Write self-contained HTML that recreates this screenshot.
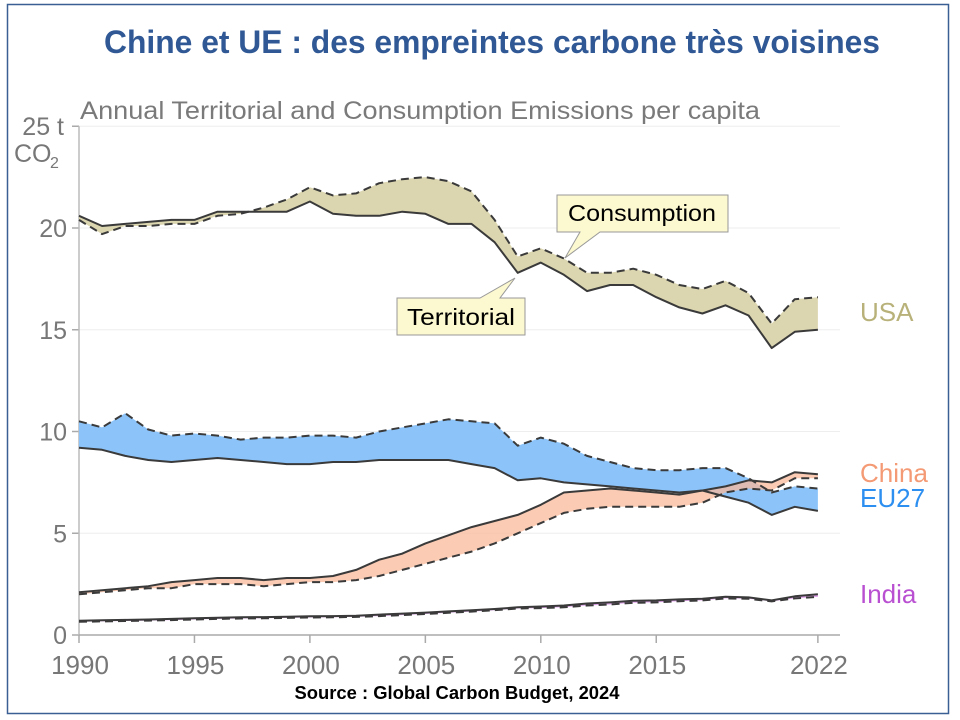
<!DOCTYPE html>
<html><head><meta charset="utf-8"><style>
html,body{margin:0;padding:0;background:#fff;}
body{width:960px;height:720px;position:relative;overflow:hidden;font-family:"Liberation Sans",sans-serif;}
</style></head><body>
<svg id="s" width="960" height="720" xmlns="http://www.w3.org/2000/svg" style="position:absolute;left:0;top:0">
<rect x="7.5" y="4.5" width="941" height="709" fill="none" stroke="#3a5f95" stroke-width="1.5"/>
<text x="492" y="53" text-anchor="middle" font-family="Liberation Sans, sans-serif" font-weight="bold" font-size="32" fill="#2f5895" textLength="776" lengthAdjust="spacingAndGlyphs">Chine et UE : des empreintes carbone très voisines</text>
<text x="80" y="119" font-family="Liberation Sans, sans-serif" font-size="25" fill="#7a7a7a" textLength="680" lengthAdjust="spacingAndGlyphs">Annual Territorial and Consumption Emissions per capita</text>
<g id="grid"></g>
<g id="plot"></g>
<text x="457" y="699" text-anchor="middle" font-family="Liberation Sans, sans-serif" font-weight="bold" font-size="18" fill="#000" textLength="325" lengthAdjust="spacingAndGlyphs">Source : Global Carbon Budget, 2024</text>
</svg>
<script>
var NS="http://www.w3.org/2000/svg";
var F='Liberation Sans, sans-serif';
function X(y){return 79+(y-1990)*23.09;}
function Y(v){return 635-v*20.35;}
function el(t,a,p,txt){var e=document.createElementNS(NS,t);for(var k in a)e.setAttribute(k,a[k]);if(txt!==undefined)e.textContent=txt;(p||document.getElementById('plot')).appendChild(e);return e;}
var g=document.getElementById('grid');
[0,5,10,15,20,25].forEach(function(v){
 if(v>0) el('line',{x1:79,x2:840,y1:Y(v),y2:Y(v),stroke:'#eeeeee','stroke-width':1},g);
 el('line',{x1:72,x2:79,y1:Y(v),y2:Y(v),stroke:'#aaa','stroke-width':1.5},g);
 if(v<25) el('text',{x:67,y:Y(v)+9,'text-anchor':'end','font-size':25,fill:'#777','font-family':F},g,String(v));
});
el('text',{x:64,y:135,'text-anchor':'end','font-size':25,fill:'#777','font-family':F},g,'25 t');
el('text',{x:14,y:162,'font-size':25,fill:'#777','font-family':F},g,'CO');
el('text',{x:50,y:168,'font-size':16,fill:'#777','font-family':F},g,'2');
el('line',{x1:79,x2:79,y1:Y(25),y2:635,stroke:'#bbb','stroke-width':1.5},g);
el('line',{x1:79,x2:840,y1:635,y2:635,stroke:'#aaa','stroke-width':1.5},g);
[[1990,'1990'],[1995,'1995'],[2000,'2000'],[2005,'2005'],[2010,'2010'],[2015,'2015'],[2022,'2022']].forEach(function(a){
 el('line',{x1:X(a[0]),x2:X(a[0]),y1:635,y2:643,stroke:'#aaa','stroke-width':1.5},g);
 el('text',{x:X(a[0])+1,y:674,'text-anchor':'middle','font-size':26,fill:'#777','font-family':F},g,a[1]);
});
var D={
usaT:[20.6,20.1,20.2,20.3,20.4,20.4,20.8,20.8,20.8,20.8,21.3,20.7,20.6,20.6,20.8,20.7,20.2,20.2,19.3,17.8,18.3,17.7,16.9,17.2,17.2,16.6,16.1,15.8,16.2,15.7,14.1,14.9,15.0],
usaC:[20.4,19.7,20.1,20.1,20.2,20.2,20.6,20.7,21.0,21.4,22.0,21.6,21.7,22.2,22.4,22.5,22.3,21.8,20.4,18.6,19.0,18.5,17.8,17.8,18.0,17.7,17.2,17.0,17.4,16.8,15.3,16.5,16.6],
euT:[9.2,9.1,8.8,8.6,8.5,8.6,8.7,8.6,8.5,8.4,8.4,8.5,8.5,8.6,8.6,8.6,8.6,8.4,8.2,7.6,7.7,7.5,7.4,7.3,7.2,7.1,7.0,7.1,6.8,6.5,5.9,6.3,6.1],
euC:[10.5,10.2,10.9,10.1,9.8,9.9,9.8,9.6,9.7,9.7,9.8,9.8,9.7,10.0,10.2,10.4,10.6,10.5,10.4,9.3,9.7,9.4,8.8,8.5,8.2,8.1,8.1,8.2,8.2,7.7,7.0,7.3,7.2],
cnT:[2.1,2.2,2.3,2.4,2.6,2.7,2.8,2.8,2.7,2.8,2.8,2.9,3.2,3.7,4.0,4.5,4.9,5.3,5.6,5.9,6.4,7.0,7.1,7.2,7.1,7.0,6.9,7.1,7.3,7.6,7.5,8.0,7.9],
cnC:[2.0,2.1,2.2,2.3,2.3,2.5,2.5,2.5,2.4,2.5,2.6,2.6,2.7,2.9,3.2,3.5,3.8,4.1,4.5,5.0,5.5,6.0,6.2,6.3,6.3,6.3,6.3,6.5,7.0,7.2,7.1,7.7,7.7],
inT:[0.7,0.72,0.74,0.76,0.79,0.82,0.85,0.87,0.88,0.9,0.92,0.93,0.95,1.0,1.05,1.1,1.16,1.22,1.28,1.36,1.4,1.45,1.55,1.6,1.68,1.7,1.75,1.78,1.88,1.85,1.7,1.9,2.0],
inC:[0.65,0.67,0.69,0.71,0.73,0.76,0.79,0.81,0.82,0.84,0.86,0.87,0.89,0.93,0.98,1.03,1.09,1.15,1.22,1.3,1.32,1.36,1.45,1.5,1.58,1.6,1.66,1.7,1.8,1.78,1.65,1.8,1.87]};
function pts(a){return a.map(function(v,i){return X(1990+i).toFixed(1)+','+Y(v).toFixed(1);});}
function band(a,b,fill,op){var p=pts(a).concat(pts(b).reverse());el('polygon',{points:p.join(' '),fill:fill,'fill-opacity':op||1});}
band(D.usaT,D.usaC,'#dcd6b0');
band(D.euT,D.euC,'#8cc4fa');
band(D.cnT,D.cnC,'#f9b99b',0.75);
band(D.inT,D.inC,'#e3a6ee');
function line(a,dash){el('polyline',{points:pts(a).join(' '),fill:'none',stroke:'#3a3a3a','stroke-width':2,'stroke-dasharray':dash?'8,5':'none','stroke-linejoin':'round'});}
['usaT','euT','cnT','inT'].forEach(function(k){line(D[k],false);});
['usaC','euC','cnC','inC'].forEach(function(k){line(D[k],true);});
el('polygon',{points:'557,195 728,195 728,232 600,232 565,258 580,232 557,232',fill:'#fcf8cf',stroke:'#999','stroke-width':1});
el('text',{x:642,y:221,'text-anchor':'middle','font-size':23,fill:'#000','font-family':F,textLength:148,lengthAdjust:'spacingAndGlyphs'},undefined,'Consumption');
el('polygon',{points:'397,298 480,298 515,278 500,298 525,298 525,335 397,335',fill:'#fcf8cf',stroke:'#999','stroke-width':1});
el('text',{x:461,y:325,'text-anchor':'middle','font-size':23,fill:'#000','font-family':F,textLength:108,lengthAdjust:'spacingAndGlyphs'},undefined,'Territorial');
var lab=[['USA',321,'#b8b27a'],['China',482,'#f49a74'],['EU27',507,'#2d8ff0'],['India',603,'#b94fd1']];
lab.forEach(function(l){el('text',{x:860,y:l[1],'font-size':26,fill:l[2],'font-family':F},undefined,l[0]);});
</script>
</body></html>
